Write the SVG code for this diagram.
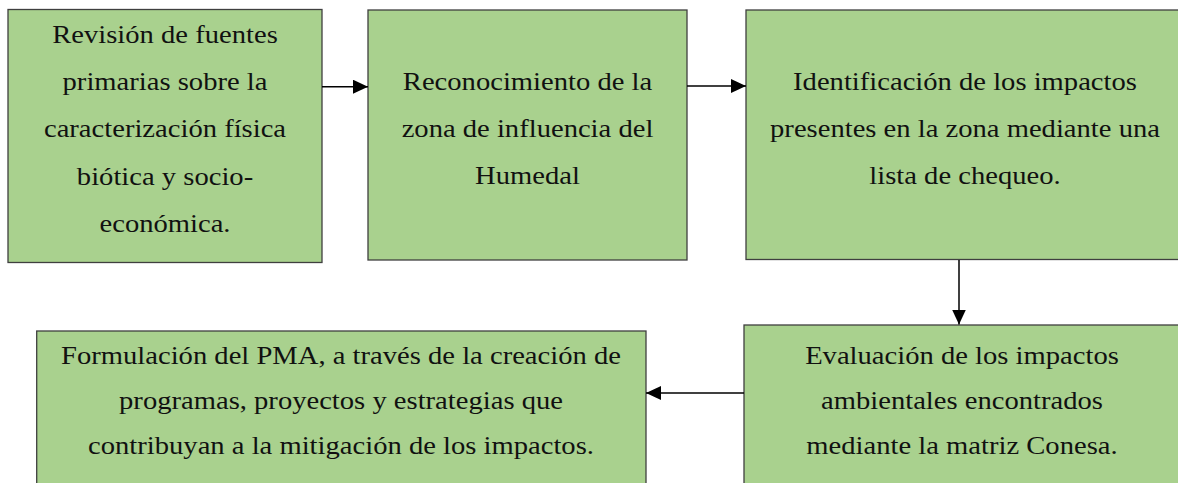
<svg xmlns="http://www.w3.org/2000/svg" width="1178" height="483" viewBox="0 0 1178 483">
  <style>
    .box { fill: #a9d18e; stroke: #3f3f3f; stroke-width: 1.3; }
    .lbl { font-family: 'Liberation Serif', 'DejaVu Serif', serif; font-size: 26px; fill: #111; text-anchor: middle; }
    .con { stroke: #000; stroke-width: 1.5; fill: none; marker-end: url(#ah); }
  </style>
  <defs>
    <marker id="ah" markerUnits="userSpaceOnUse" markerWidth="16" markerHeight="14" refX="15" refY="7" orient="auto">
      <path d="M0,0 L15,7 L0,14 Z" fill="#000"/>
    </marker>
  </defs>
  <rect width="1178" height="483" fill="#ffffff"/>

  <g id="n1">
    <rect class="box" x="8" y="9.5" width="314" height="253"/>
    <g transform="translate(165 0) scale(1.1 1)">
      <text class="lbl" x="0" y="43" font-family="Liberation Serif">Revisión de fuentes</text>
      <text class="lbl" x="0" y="90" font-family="Liberation Serif">primarias sobre la</text>
      <text class="lbl" x="0" y="137" font-family="Liberation Serif">caracterización física</text>
      <text class="lbl" x="0" y="185" font-family="Liberation Serif">biótica y socio-</text>
      <text class="lbl" x="0" y="232" font-family="Liberation Serif">económica.</text>
    </g>
  </g>

  <g id="n2">
    <rect class="box" x="368" y="10" width="319" height="250"/>
    <g transform="translate(527.5 0) scale(1.1 1)">
      <text class="lbl" x="0" y="90">Reconocimiento de la</text>
      <text class="lbl" x="0" y="137">zona de influencia del</text>
      <text class="lbl" x="0" y="184">Humedal</text>
    </g>
  </g>

  <g id="n3">
    <rect class="box" x="746" y="10" width="440" height="249.5"/>
    <g transform="translate(965 0) scale(1.1 1)">
      <text class="lbl" x="0" y="90">Identificación de los impactos</text>
      <text class="lbl" x="0" y="137">presentes en la zona mediante una</text>
      <text class="lbl" x="0" y="184">lista de chequeo.</text>
    </g>
  </g>

  <g id="n4">
    <rect class="box" x="744" y="325" width="440" height="170"/>
    <g transform="translate(962 0) scale(1.1 1)">
      <text class="lbl" x="0" y="364">Evaluación de los impactos</text>
      <text class="lbl" x="0" y="409">ambientales encontrados</text>
      <text class="lbl" x="0" y="454">mediante la matriz Conesa.</text>
    </g>
  </g>

  <g id="n5">
    <rect class="box" x="36.7" y="331" width="609.3" height="170"/>
    <g transform="translate(341 0) scale(1.1 1)">
      <text class="lbl" x="0" y="364">Formulación del PMA, a través de la creación de</text>
      <text class="lbl" x="0" y="409">programas, proyectos y estrategias que</text>
      <text class="lbl" x="0" y="454">contribuyan a la mitigación de los impactos.</text>
    </g>
  </g>

  <g id="connectors">
    <line class="con" x1="322" y1="86.7" x2="368" y2="86.7"/>
    <line class="con" x1="687" y1="86" x2="746" y2="86"/>
    <line class="con" x1="959" y1="260" x2="959" y2="324.5"/>
    <line class="con" x1="744" y1="393" x2="646" y2="393"/>
  </g>
</svg>
